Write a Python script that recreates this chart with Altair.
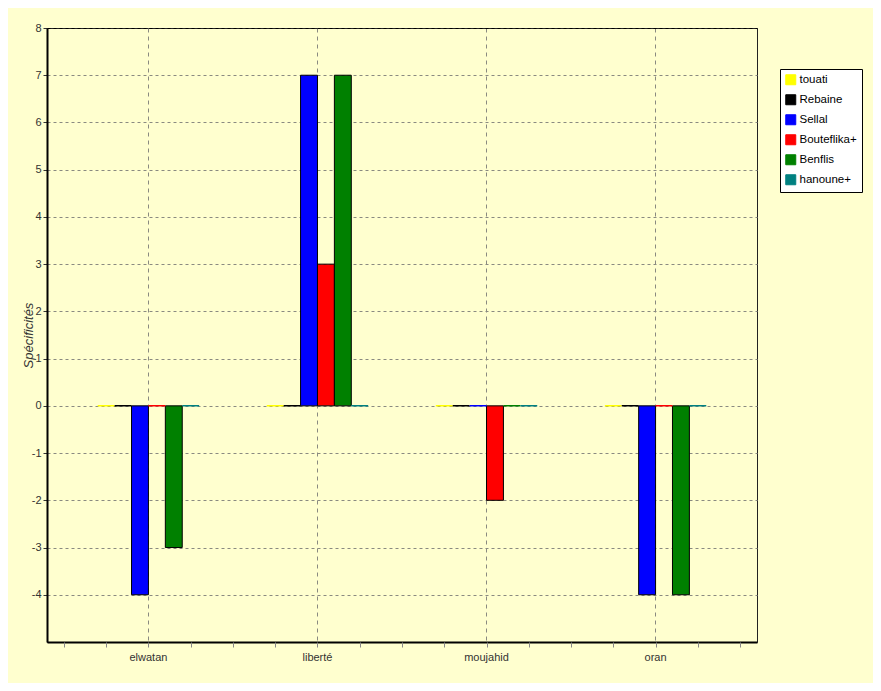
import altair as alt
import pandas as pd

categories = ["elwatan", "liberté", "moujahid", "oran"]
series = ["touati", "Rebaine", "Sellal", "Bouteflika+", "Benflis", "hanoune+"]
colors = ["#FFFF00", "#000000", "#0000FF", "#FF0000", "#008000", "#008080"]

touati = [0, 0, 0, 0]
rebaine = [0, 0, 0, 0]
sellal = [-4, 7, 0, -4]
bouteflika = [0, 3, -2, 0]
benflis = [-3, 7, 0, -4]
hanoune = [0, 0, 0, 0]
all_vals = [touati, rebaine, sellal, bouteflika, benflis, hanoune]

rows = []
for s, vals in zip(series, all_vals):
    for c, v in zip(categories, vals):
        rows.append({"journal": c, "candidat": s, "value": v})
df = pd.DataFrame(rows)
cat_df = pd.DataFrame({"idx": list(range(len(categories)))})

color_scale = alt.Scale(domain=series, range=colors)
x_scale = alt.Scale(paddingInner=0.4, paddingOuter=0.3)
x_enc = alt.X(
    "journal:N", sort=categories, title=None, scale=x_scale,
    axis=alt.Axis(bandPosition=0.5, grid=True, gridDash=[4, 4], gridColor="#8a8a80",
                  gridWidth=1, ticks=False, domainColor="black", domainWidth=2,
                  labelFont="Liberation Sans", labelFontSize=11, labelColor="#333333",
                  labelPadding=9, labelAngle=0),
)
xo = alt.XOffset("candidat:N", sort=series, scale=alt.Scale(paddingInner=0, paddingOuter=0))
y_enc = alt.Y(
    "value:Q", title="Spécificités",
    scale=alt.Scale(domain=[-5, 8], nice=False, zero=False),
    axis=alt.Axis(values=list(range(-4, 9)), grid=True, gridDash=[3, 3],
                  gridColor={"condition": {"test": "datum.value === 8", "value": "#000000"}, "value": "#8a8a80"},
                  domainColor="black", domainWidth=2, tickColor="#333333", tickSize=4,
                  labelExpr="datum.value < 0 ? '-' + abs(datum.value) : '' + datum.value",
                  labelFont="Liberation Sans", labelFontSize=11, labelColor="#333333", labelPadding=2,
                  titleFont="Liberation Sans", titleFontSize=13, titleFontStyle="italic",
                  titleFontWeight="normal", titleColor="#333333", titlePadding=-4),
)

bars = alt.Chart(df).transform_filter("datum.value != 0").mark_bar(
    stroke="black", strokeWidth=1
).encode(
    x=x_enc, xOffset=xo, y=y_enc,
    color=alt.Color("candidat:N", sort=series, scale=color_scale, title=None,
                    legend=alt.Legend(orient="none", legendX=733, legendY=41,
                                      fillColor="white", strokeColor="black", padding=5,
                                      symbolType="square", symbolSize=100,
                                      symbolStrokeColor="black", symbolStrokeWidth=1,
                                      symbolOpacity=1,
                                      labelFont="Liberation Sans",
                                      labelFontSize=11.5, labelColor="#000000",
                                      rowPadding=5, labelOffset=3)),
)

zero_bars = alt.Chart(df).transform_filter("datum.value == 0").mark_bar(
    fillOpacity=0, strokeWidth=1.5
).encode(
    x=alt.X("journal:N", sort=categories, scale=x_scale, axis=None), xOffset=xo, y="value:Q",
    stroke=alt.Stroke("candidat:N", sort=series, scale=color_scale, legend=None),
)

minor = alt.Chart(cat_df).mark_point(opacity=0).encode(
    x=alt.X("idx:Q", title=None,
            scale=alt.Scale(domain=[-0.6, 3.6], nice=False, zero=False),
            axis=alt.Axis(orient="bottom", values=[i / 4 - 0.5 for i in range(17)],
                          labels=False, domain=False, grid=False, ticks=True,
                          tickSize=5, tickColor="#888888")),
)

chart = alt.layer(bars, zero_bars, minor).resolve_scale(x="independent").properties(
    width=710, height=614, background="#FFFFCF",
    autosize=alt.AutoSizeParams(type="none"),
    padding={"left": 39, "top": 20, "right": 116, "bottom": 41},
).configure_view(stroke="#222222", strokeWidth=1)

chart.save("out.html", embed_options={"renderer": "svg", "actions": False})
